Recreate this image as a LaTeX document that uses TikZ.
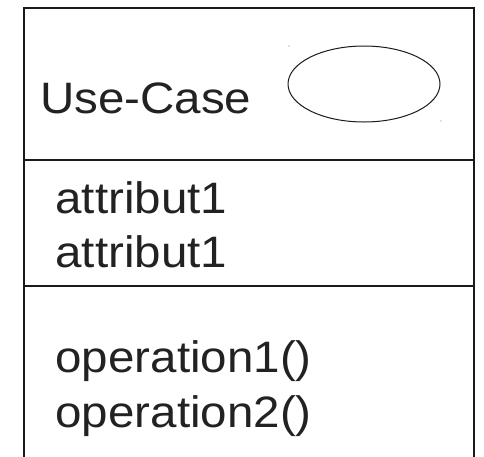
\documentclass[tikz,border=0pt]{standalone}
\usepackage{fontspec}
\usepackage{graphicx}
\setmainfont{Liberation Sans}
\definecolor{txt}{HTML}{222222}
\definecolor{edge}{HTML}{1A1A1A}
\begin{document}
\begin{tikzpicture}[x=1pt,y=-1pt,
  lbl/.style={anchor=base west,inner sep=0pt,outer sep=0pt,text=txt,font=\fontsize{44}{54}\selectfont},
  frame/.style={draw=edge,line width=1.4pt},
  thin/.style={draw=edge,line width=1pt}]
\useasboundingbox (0,0) rectangle (484,456);
\draw[frame] (24,470) -- (24,8) -- (474,8) -- (474,470);
\draw[frame] (24,160) -- (474,160);
\draw[frame] (24,286) -- (474,286);
\node[lbl] (uc) at (40,113) {\scalebox{1.08}[1]{Use-Case}};
\draw[thin] (364,84) ellipse [x radius=76, y radius=38];
\fill[gray] (289,46) circle (0.6);
\fill[gray] (441,121) circle (0.6);
\node[lbl] (a1) at (55.5,213) {\scalebox{1.08}[1]{attribut1}};
\node[lbl] (a2) at (55.5,267) {\scalebox{1.08}[1]{attribut1}};
\node[lbl] (o1) at (55.5,372) {\scalebox{1.08}[1]{operation1()}};
\node[lbl] (o2) at (55.5,427) {\scalebox{1.08}[1]{operation2()}};
\end{tikzpicture}
\end{document}
